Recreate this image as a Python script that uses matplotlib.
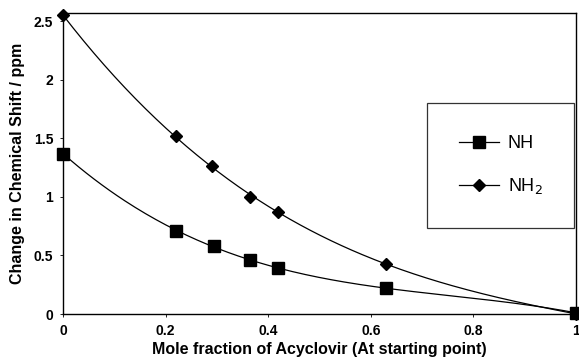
import matplotlib
matplotlib.use("Agg")
import matplotlib.pyplot as plt
import numpy as np

plt.rcParams["font.family"] = ["Liberation Sans", "DejaVu Sans"]

# mole fraction of acyclovir
x_nh = [0.0, 0.22, 0.295, 0.365, 0.42, 0.63, 1.0]
nh = [1.37, 0.71, 0.58, 0.46, 0.39, 0.22, 0.01]
x_nh2 = [0.0, 0.22, 0.29, 0.365, 0.42, 0.63, 1.0]
nh2 = [2.55, 1.52, 1.26, 1.0, 0.87, 0.43, 0.0]

fig = plt.figure(figsize=(5.79, 3.59), dpi=100)
ax = fig.add_axes([63 / 579, 45 / 359, 513 / 579, 301 / 359])

xs = np.linspace(0, 1, 200)
fit_nh = np.polyval(np.polyfit(x_nh, nh, 3), xs)
fit_nh2 = np.polyval(np.polyfit(x_nh2, nh2, 3), xs)

ax.plot(xs, fit_nh, color="black", linewidth=0.9)
ax.plot(xs, fit_nh2, color="black", linewidth=0.9)
ax.plot(x_nh, nh, linestyle="none", marker="s", markersize=9,
        color="black", clip_on=False)
ax.plot(x_nh2, nh2, linestyle="none", marker="D", markersize=6,
        markerfacecolor="black", markeredgecolor="black", clip_on=False)

# legend handles: line + marker
h1, = ax.plot([], [], color="black", linewidth=0.9, marker="s", markersize=9, label="NH")
h2, = ax.plot([], [], color="black", linewidth=0.9, marker="D", markersize=6,
              markerfacecolor="black", label="NH$_2$")
leg = ax.legend(handles=[h1, h2], loc="upper left", bbox_to_anchor=(0.71, 0.70),
                frameon=True, fancybox=False, fontsize=13, handlelength=2.2,
                borderpad=1.75, labelspacing=1.35, handletextpad=0.5,
                borderaxespad=0)
leg.get_frame().set_edgecolor("black")
leg.get_frame().set_linewidth(0.9)

ax.set_xlim(0, 1.0)
ax.set_ylim(0, 2.57)
ax.set_xticks([0, 0.2, 0.4, 0.6, 0.8, 1.0])
ax.set_xticklabels(["0", "0.2", "0.4", "0.6", "0.8", "1"])
ax.set_yticks([0, 0.5, 1.0, 1.5, 2.0, 2.5])
ax.set_yticklabels(["0", "0.5", "1", "1.5", "2", "2.5"])
for lab in ax.get_xticklabels() + ax.get_yticklabels():
    lab.set_fontweight("bold")
    lab.set_fontsize(10)
ax.tick_params(length=2, width=0.6, pad=5)

for sp in ax.spines.values():
    sp.set_linewidth(1.0)

ax.set_xlabel("Mole fraction of Acyclovir (At starting point)",
              fontsize=11.5, fontweight="bold", labelpad=3)
ax.set_ylabel("Change in Chemical Shift / ppm",
              fontsize=11.5, fontweight="bold", labelpad=6)

fig.savefig("out.png", dpi=100)
